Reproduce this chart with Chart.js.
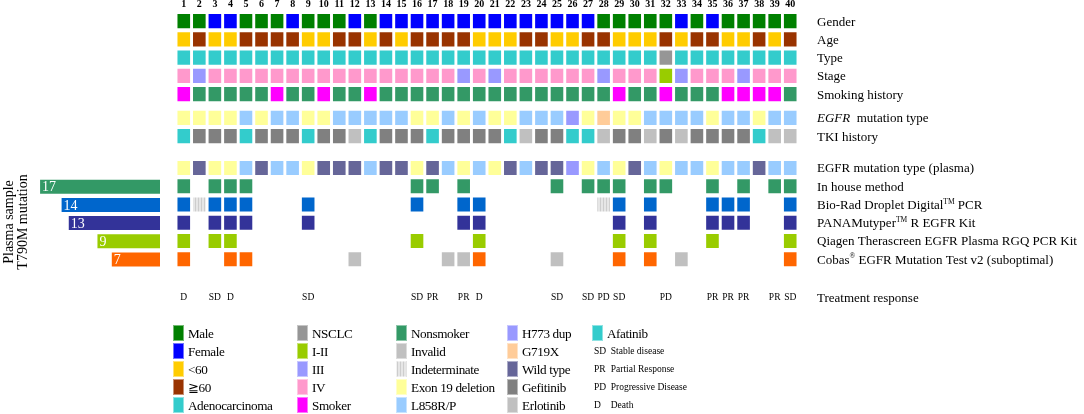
<!DOCTYPE html>
<html>
<head>
<meta charset="utf-8">
<script src="https://cdn.jsdelivr.net/npm/chart.js@4/dist/chart.umd.min.js"></script>
<style>
body { margin: 0; background: #fff; }
#wrap { position: relative; width: 1084px; height: 414px; font-family: 'Liberation Serif', 'Times New Roman', serif; overflow: hidden; }
#main { position: absolute; left: 0; top: 0; }
#side { position: absolute; left: 0; top: 170px; }
.lg { position: absolute; height: 16px; line-height: 17px; font-size: 13.2px; letter-spacing: -0.4px; white-space: nowrap; color: #000; }
.lg i { display: inline-block; width: 11px; height: 16px; vertical-align: top; margin-right: 4px; box-sizing: border-box; border: 1px solid rgba(255,255,255,0.45); }
.lg.ab { font-size: 9.5px; letter-spacing: 0; }
.lg.ab b { display: inline-block; width: 12px; font-weight: normal; margin-right: 0; }
</style>
</head>
<body>
<div id="wrap">
  <canvas id="main" width="1084" height="414"></canvas>
  <canvas id="side" width="170" height="110"></canvas>
</div>
<script>
// columns (patients)
var patients = ['1','2','3','4','5','6','7','8','9','10','11','12','13','14','15','16','17','18','19','20',
                '21','22','23','24','25','26','27','28','29','30','31','32','33','34','35','36','37','38','39','40'];

// clinical rows
var gender   = ['M','M','F','F','M','M','M','F','M','M','M','F','M','F','F','F','F','F','F','F',
                'F','F','F','F','F','F','F','M','M','M','M','M','F','M','F','M','M','M','M','M'];
var age      = ['Y','O','Y','Y','O','O','O','O','Y','Y','O','O','Y','O','Y','O','O','O','O','Y',
                'Y','Y','O','O','Y','Y','O','O','Y','Y','Y','O','Y','O','O','Y','Y','O','Y','O'];
var tumour   = ['A','A','A','A','A','A','A','A','A','A','A','A','A','A','A','A','A','A','A','A',
                'A','A','A','A','A','A','A','A','A','A','A','N','A','A','A','A','A','A','A','A'];
var stage    = ['IV','III','IV','IV','IV','IV','IV','IV','IV','IV','IV','IV','IV','IV','IV','IV','IV','IV','III','IV',
                'III','IV','IV','IV','IV','IV','IV','III','IV','IV','IV','I-II','III','IV','IV','IV','III','IV','IV','IV'];
var smoking  = ['S','N','N','N','N','N','S','N','N','S','N','N','S','N','N','N','N','N','N','N',
                'N','N','N','N','N','N','N','N','S','N','N','S','N','N','N','S','S','S','S','N'];
var egfrTissue = ['E','E','E','E','L','E','L','L','E','E','L','L','L','L','L','E','E','L','E','L',
                  'E','E','L','L','L','H','E','G','E','E','L','L','L','L','E','L','L','E','L','L'];
var tki      = ['Af','Gf','Gf','Gf','Af','Gf','Gf','Gf','Af','Gf','Gf','Er','Af','Gf','Gf','Gf','Af','Gf','Gf','Gf',
                'Gf','Af','Er','Gf','Gf','Af','Af','Er','Gf','Gf','Er','Gf','Er','Gf','Gf','Gf','Gf','Af','Er','Er'];
var egfrPlasma = ['E','W','E','E','L','W','L','L','E','W','W','W','L','W','W','E','W','L','E','L',
                  'E','W','L','W','W','H','E','L','E','W','L','E','L','L','E','L','L','W','L','L'];

// plasma T790M detection: '+' positive, 'i' invalid, 'x' indeterminate, '' negative
var inHouse = ['+','','+','+','+','','','','','','','','','','','+','+','','+','',
               '','','','','+','','+','+','+','','+','+','','','+','','+','','+','+'];
var bioRad  = ['+','x','+','+','+','','','','+','','','','','','','+','','','+','+',
               '','','','','','','','x','+','','+','','','','+','+','+','','','+'];
var pana    = ['+','','+','+','+','','','','+','','','','','','','','','','+','+',
               '','','','','','','','','+','','+','','','','+','+','+','','','+'];
var qiagen  = ['+','','+','+','','','','','','','','','','','','+','','','','+',
               '','','','','','','','','+','','+','','','','+','','','','','+'];
var cobas   = ['+','','','+','+','','','','','','','i','','','','','','i','i','+',
               '','','','','i','','','','+','','+','','i','','','','','','','+'];

var response = ['D','','SD','D','','','','','SD','','','','','','','SD','PR','','PR','D',
                '','','','','SD','','SD','PD','SD','','','PD','','','PR','PR','PR','','PR','SD'];

// left summary bars
var methodNames  = ['In house method','Bio-Rad Droplet Digital PCR','PANAMutyper R EGFR Kit','Qiagen Therascreen','Cobas'];
var methodCounts = [17, 14, 13, 9, 7];
var methodColors = ['#339966','#0066cc','#333399','#99cc00','#ff6600'];

var FONT = "'Liberation Serif', 'Times New Roman', serif";
var mainCanvas = document.getElementById('main');
var mctx = mainCanvas.getContext('2d');

function stripePattern(ctx) {
    var c = document.createElement('canvas');
    c.width = 3; c.height = 4;
    var x = c.getContext('2d');
    x.fillStyle = '#e6e6e6';
    x.fillRect(0, 0, 3, 4);
    x.fillStyle = '#cdcdcd';
    x.fillRect(0, 0, 1, 4);
    return ctx.createPattern(c, 'repeat');
}
var stripes = stripePattern(mctx);

var palGender  = { M: '#008000', F: '#0000ff' };
var palAge     = { Y: '#ffcc00', O: '#993300' };
var palTumour  = { A: '#33cccc', N: '#969696' };
var palStage   = { 'I-II': '#99cc00', 'III': '#9999ff', 'IV': '#ff99cc' };
var palSmoking = { S: '#ff00ff', N: '#339966' };
var palEgfr    = { E: '#ffff99', L: '#99ccff', H: '#9999ff', G: '#ffcc99', W: '#666699' };
var palTki     = { Af: '#33cccc', Gf: '#808080', Er: '#c0c0c0' };
function palMethod(col) { return { '+': col, 'i': '#c0c0c0', 'x': stripes }; }

// row layout (in row units)
var rows = [
    { pos: 0,    codes: gender,     pal: palGender,  label: [{ t: 'Gender' }] },
    { pos: 1,    codes: age,        pal: palAge,     label: [{ t: 'Age' }] },
    { pos: 2,    codes: tumour,     pal: palTumour,  label: [{ t: 'Type' }] },
    { pos: 3,    codes: stage,      pal: palStage,   label: [{ t: 'Stage' }] },
    { pos: 4,    codes: smoking,    pal: palSmoking, label: [{ t: 'Smoking history' }] },
    { pos: 5.3,  codes: egfrTissue, pal: palEgfr,    label: [{ t: 'EGFR', i: true }, { t: '  mutation type' }] },
    { pos: 6.3,  codes: tki,        pal: palTki,     label: [{ t: 'TKI history' }] },
    { pos: 8.05, codes: egfrPlasma, pal: palEgfr,    label: [{ t: 'EGFR mutation type (plasma)' }] },
    { pos: 9.05, codes: inHouse,    pal: palMethod(methodColors[0]), label: [{ t: 'In house method' }] },
    { pos: 10.05, codes: bioRad,    pal: palMethod(methodColors[1]), label: [{ t: 'Bio-Rad Droplet Digital' }, { t: 'TM', s: true }, { t: ' PCR' }] },
    { pos: 11.05, codes: pana,      pal: palMethod(methodColors[2]), label: [{ t: 'PANAMutyper' }, { t: 'TM', s: true }, { t: ' R EGFR Kit' }] },
    { pos: 12.05, codes: qiagen,    pal: palMethod(methodColors[3]), label: [{ t: 'Qiagen Therascreen EGFR Plasma RGQ PCR Kit' }] },
    { pos: 13.05, codes: cobas,     pal: palMethod(methodColors[4]), label: [{ t: 'Cobas' }, { t: '®', s: true }, { t: ' EGFR Mutation Test v2 (suboptimal)' }] }
];
var responsePos = 15.66;

var datasets = rows.map(function(r) {
    return {
        data: r.codes.map(function(c) { return c ? [r.pos + 0.06, r.pos + 0.94] : null; }),
        backgroundColor: r.codes.map(function(c) { return c ? r.pal[c] : 'rgba(0,0,0,0)'; }),
        borderColor: 'rgba(255,255,255,0.3)',
        borderWidth: 1,
        borderSkipped: false,
        grouped: false,
        categoryPercentage: 1,
        barPercentage: 0.94
    };
});

// labels on the right and the response codes
var textPlugin = {
    id: 'texts',
    afterDraw: function(chart) {
        var ctx = chart.ctx, xs = chart.scales.x, ys = chart.scales.y;
        ctx.save();
        ctx.fillStyle = '#000';
        ctx.textBaseline = 'middle';
        ctx.textAlign = 'left';
        rows.forEach(function(r) {
            var y = ys.getPixelForValue(r.pos + 0.5) + 1;
            var x = 817;
            r.label.forEach(function(p) {
                if (p.s) {
                    ctx.font = '7.5px ' + FONT;
                    ctx.fillText(p.t, x, y - 4);
                } else {
                    ctx.font = (p.i ? 'italic ' : '') + '13px ' + FONT;
                    ctx.fillText(p.t, x, y);
                }
                x += ctx.measureText(p.t).width;
            });
        });
        ctx.font = '13px ' + FONT;
        ctx.fillText('Treatment response', 817, ys.getPixelForValue(responsePos) + 1);
        ctx.font = '9.5px ' + FONT;
        ctx.textAlign = 'center';
        response.forEach(function(r, i) {
            if (r) ctx.fillText(r, xs.getPixelForValue(i), ys.getPixelForValue(responsePos));
        });
        ctx.restore();
    }
};

new Chart(mainCanvas, {
    type: 'bar',
    data: { labels: patients, datasets: datasets },
    options: {
        responsive: false,
        animation: false,
        layout: { padding: { left: 176, right: 286, top: 0, bottom: 110 } },
        plugins: { legend: { display: false }, tooltip: { enabled: false } },
        scales: {
            x: {
                type: 'category',
                position: 'top',
                grid: { display: false, drawTicks: false },
                border: { display: false },
                afterFit: function(axis) { axis.height = 12; },
                ticks: { color: '#000', padding: 2, autoSkip: false, maxRotation: 0,
                         font: { family: 'Liberation Serif', size: 10, weight: 'bold' } }
            },
            y: { type: 'linear', min: 0, max: 16, reverse: true, display: false }
        }
    },
    plugins: [textPlugin]
});

// left side: number of T790M positive samples per method
var sidePlugin = {
    id: 'sideTexts',
    afterDraw: function(chart) {
        var ctx = chart.ctx;
        ctx.save();
        ctx.fillStyle = '#fff';
        ctx.font = '14px ' + FONT;
        ctx.textBaseline = 'middle';
        ctx.textAlign = 'left';
        chart.getDatasetMeta(0).data.forEach(function(bar, i) {
            ctx.fillText(String(methodCounts[i]), bar.x + 3, bar.y + 1);
        });
        ctx.fillStyle = '#000';
        ctx.font = '14px ' + FONT;
        ctx.textAlign = 'center';
        ctx.translate(9, 52);
        ctx.rotate(-Math.PI / 2);
        ctx.fillText('Plasma sample', 0, 0);
        ctx.fillText('T790M mutation', 0, 14);
        ctx.restore();
    }
};

new Chart(document.getElementById('side'), {
    type: 'bar',
    data: {
        labels: methodNames,
        datasets: [{
            data: methodCounts,
            backgroundColor: methodColors,
            borderColor: 'rgba(255,255,255,0.3)',
            borderWidth: 1,
            borderSkipped: false,
            categoryPercentage: 1,
            barPercentage: 0.88
        }]
    },
    options: {
        indexAxis: 'y',
        responsive: false,
        animation: false,
        layout: { padding: { left: 0, right: 9, top: 7.6, bottom: 11.4 } },
        plugins: { legend: { display: false }, tooltip: { enabled: false } },
        scales: {
            x: { display: false, min: 0, max: 22.45, reverse: true },
            y: { display: false }
        }
    },
    plugins: [sidePlugin]
});

// legend
var legendCols = [
    [['Male', '#008000'], ['Female', '#0000ff'], ['<60', '#ffcc00'], ['\u226760', '#993300'], ['Adenocarcinoma', '#33cccc']],
    [['NSCLC', '#969696'], ['I-II', '#99cc00'], ['III', '#9999ff'], ['IV', '#ff99cc'], ['Smoker', '#ff00ff']],
    [['Nonsmoker', '#339966'], ['Invalid', '#c0c0c0'], ['Indeterminate', 'stripes'], ['Exon 19 deletion', '#ffff99'], ['L858R/P', '#99ccff']],
    [['H773 dup', '#9999ff'], ['G719X', '#ffcc99'], ['Wild type', '#666699'], ['Gefitinib', '#808080'], ['Erlotinib', '#c0c0c0']],
    [['Afatinib', '#33cccc'], ['SD|Stable disease', null], ['PR|Partial Response', null], ['PD|Progressive Disease', null], ['D|Death', null]]
];
var legendX = [173, 297, 396, 507, 592];
var legendY = [333, 351, 369, 387, 405];
var wrap = document.getElementById('wrap');
legendCols.forEach(function(col, c) {
    col.forEach(function(item, r) {
        var d = document.createElement('div');
        d.className = 'lg';
        d.style.left = legendX[c] + 'px';
        d.style.top = (legendY[r] - 8) + 'px';
        if (item[1] === null) {
            var parts = item[0].split('|');
            d.className = 'lg ab';
            d.style.left = (legendX[c] + 2) + 'px';
            d.innerHTML = '<b>' + parts[0] + '</b>&nbsp;&nbsp;' + parts[1];
        } else {
            var bg = item[1] === 'stripes'
                ? 'background:repeating-linear-gradient(90deg,#cdcdcd 0 1px,#e6e6e6 1px 3px)'
                : 'background:' + item[1];
            d.innerHTML = '<i style="' + bg + '"></i>' + item[0].replace('<', '&lt;');
        }
        wrap.appendChild(d);
    });
});
</script>
</body>
</html>
